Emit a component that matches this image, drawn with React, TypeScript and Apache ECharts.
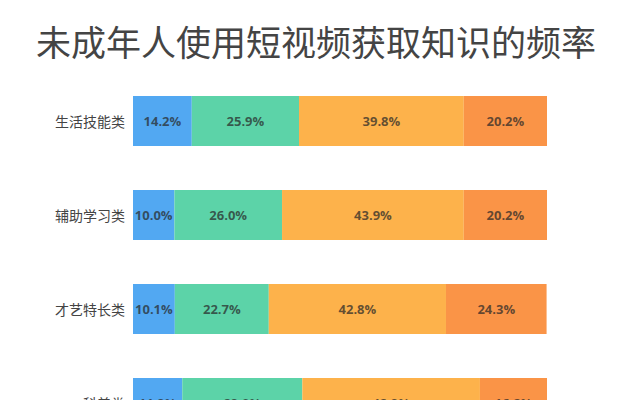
import { useEffect, useRef } from "react";
import * as echarts from "echarts";

const TITLE = "未成年人使用短视频获取知识的频率";

const categories = ["生活技能类", "辅助学习类", "才艺特长类", "科普类"];

// four frequency bands, stacked left to right (last row is cut off in the source, values estimated)
const seg1 = [14.2, 10.0, 10.1, 11.9];
const seg2 = [25.9, 26.0, 22.7, 29.0];
const seg3 = [39.8, 43.9, 42.8, 42.9];
const seg4 = [20.2, 20.2, 24.3, 16.2];

const COLORS = ["#52a8f2", "#5cd3a8", "#fdb24b", "#fa9447"];

const FONT = "'Noto Sans CJK SC', 'Noto Sans', sans-serif";

export default function App() {
  const ref = useRef<HTMLDivElement>(null);

  useEffect(() => {
    if (!ref.current) return;
    const chart = echarts.init(ref.current, undefined, { renderer: "svg" });

    const mk = (name: string, data: number[], color: string) => ({
      name,
      type: "bar" as const,
      stack: "total",
      data,
      barWidth: 50,
      itemStyle: { color },
      label: {
        show: true,
        position: "inside" as const,
        formatter: (p: any) => `${Number(p.value).toFixed(1)}%`,
        color: "rgba(40,40,40,0.72)",
        fontSize: 13,
        fontWeight: "bold" as const,
        fontFamily: "'Open Sans', 'Noto Sans', sans-serif",
      },
    });

    chart.setOption({
      animation: false,
      backgroundColor: "#ffffff",
      title: {
        text: TITLE,
        left: "center",
        top: 23,
        padding: 0,
        textStyle: {
          fontSize: 35,
          fontWeight: "normal",
          color: "#444444",
          fontFamily: FONT,
        },
      },
      // the last row runs past the bottom edge, as in the source picture
      grid: {
        left: 133,
        top: 74,
        width: 414,
        height: 376,
        containLabel: false,
        outerBoundsMode: "none",
      },
      xAxis: { type: "value", min: 0, max: 100, show: false },
      yAxis: {
        type: "category",
        data: categories,
        inverse: true,
        axisLine: { show: false },
        axisTick: { show: false },
        axisLabel: { color: "#444", fontSize: 14, margin: 8, fontFamily: FONT },
      },
      series: [
        mk("a", seg1, COLORS[0]),
        mk("b", seg2, COLORS[1]),
        mk("c", seg3, COLORS[2]),
        mk("d", seg4, COLORS[3]),
      ],
    });

    return () => chart.dispose();
  }, []);

  return (
    <div
      ref={ref}
      style={{ position: "absolute", left: 0, top: 0, width: "632px", height: "400px" }}
    />
  );
}
